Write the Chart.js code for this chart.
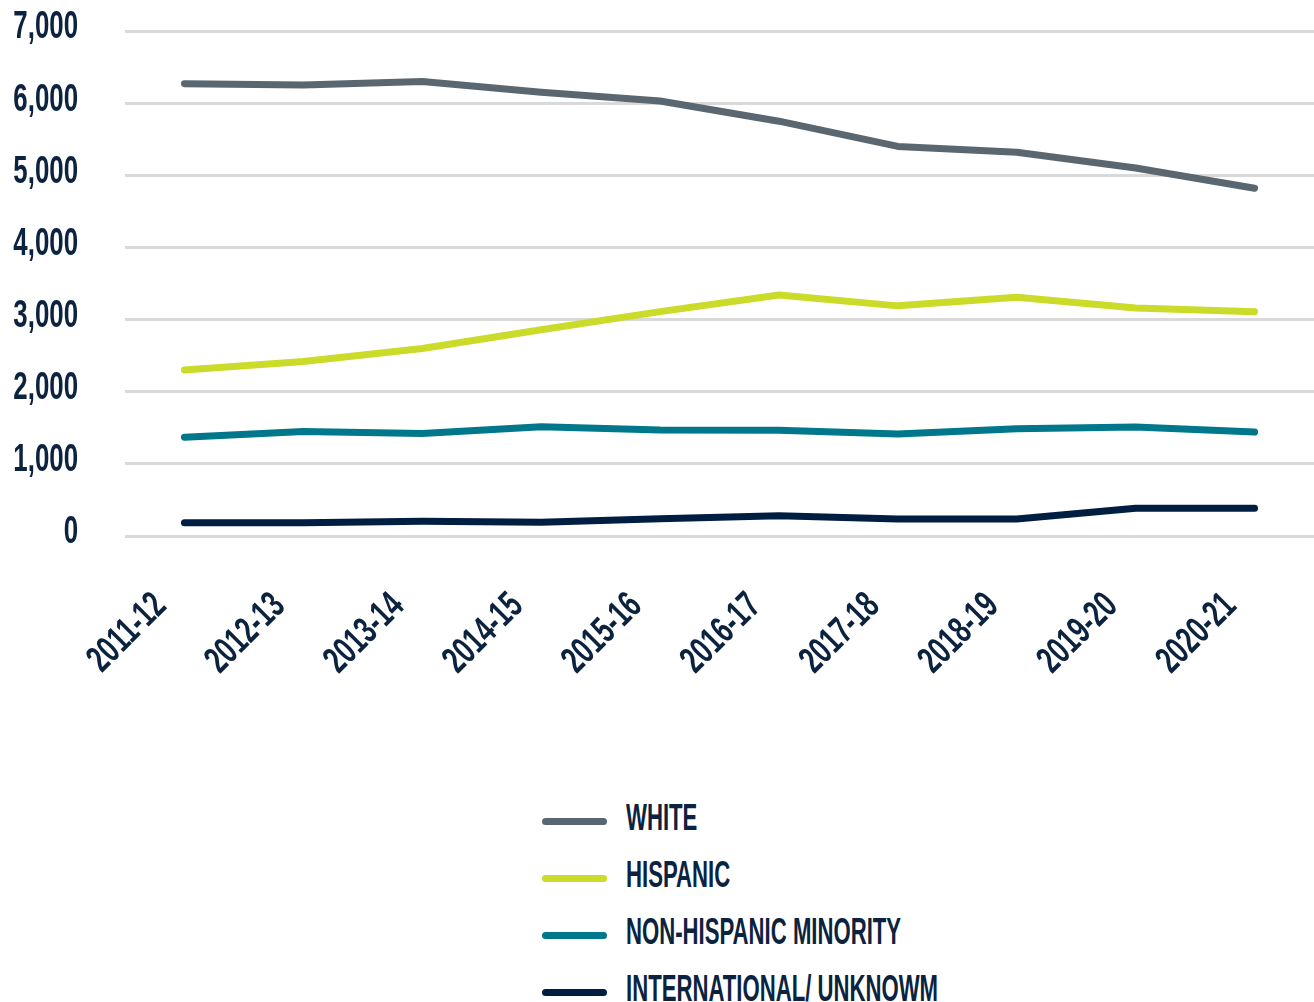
<!DOCTYPE html>
<html>
<head>
<meta charset="utf-8">
<script src="https://cdn.jsdelivr.net/npm/chart.js@4.4.0/dist/chart.umd.min.js"></script>
<style>
  html, body { margin: 0; padding: 0; background: #fff; }
  #wrap { position: relative; width: 1314px; height: 1002px; }
  #chartBox { position: absolute; left: 0; top: 0; width: 1314px; height: 700px; }
  #legend { position: absolute; left: 542px; top: 796px; }
  .item { height: 57px; position: relative; }
  .swatch { position: absolute; left: 0; top: 22px; width: 65px; height: 7px; border-radius: 4px; }
  .label {
    position: absolute; left: 84px; top: 0; white-space: nowrap;
    font-family: 'Liberation Sans', 'DejaVu Sans', sans-serif;
    font-weight: bold;
    font-size: 37px; line-height: 44px; color: #0c2340;
    transform-origin: left center;
  }
</style>
</head>
<body>
<div id="wrap">
  <div id="chartBox"><canvas id="enrollChart"></canvas></div>
  <div id="legend"></div>
</div>
<script>
var years = ['2011-12', '2012-13', '2013-14', '2014-15', '2015-16', '2016-17', '2017-18', '2018-19', '2019-20', '2020-21'];
var white = [6270, 6250, 6300, 6150, 6030, 5750, 5400, 5320, 5100, 4820];
var hispanic = [2300, 2420, 2600, 2860, 3110, 3340, 3190, 3310, 3160, 3110];
var nonHispanicMinority = [1370, 1450, 1420, 1515, 1470, 1465, 1415, 1485, 1510, 1440];
var international = [185, 185, 205, 190, 240, 280, 235, 235, 385, 385];
var yTicks = [0, 1000, 2000, 3000, 4000, 5000, 6000, 7000];

var navy = '#0c2340';
var font = "'Liberation Sans', 'DejaVu Sans', sans-serif";
var SQUEEZE = 0.68; // original uses a very narrow face

function series(label, data, color) {
  return {
    label: label,
    data: data,
    borderColor: color,
    backgroundColor: color,
    borderWidth: 7,
    borderCapStyle: 'round',
    borderJoinStyle: 'round',
    pointRadius: 0,
    pointHoverRadius: 0,
    tension: 0,
    fill: false
  };
}

// draw tick text condensed (fillText maxWidth squeezes it horizontally)
var narrowText = {
  id: 'narrowText',
  beforeDraw: function (chart) {
    var c = chart.ctx;
    if (c._narrow) return;
    var orig = c.fillText;
    c.fillText = function (text, x, y) {
      var w = this.measureText(text).width * SQUEEZE;
      orig.call(this, text, x, y, w);
    };
    c._narrow = true;
  }
};

var ctx = document.getElementById('enrollChart');
var enrollChart = new Chart(ctx, {
  type: 'line',
  data: {
    labels: years,
    datasets: [
      series('WHITE', white, '#5b6770'),
      series('HISPANIC', hispanic, '#cbdb2a'),
      series('NON-HISPANIC MINORITY', nonHispanicMinority, '#00778b'),
      series('INTERNATIONAL/ UNKNOWM', international, '#001e41')
    ]
  },
  plugins: [narrowText],
  options: {
    responsive: true,
    maintainAspectRatio: false,
    animation: false,
    layout: { padding: { top: 31, right: 0, bottom: 0, left: 0 } },
    plugins: {
      legend: { display: false },
      tooltip: { enabled: false }
    },
    scales: {
      x: {
        offset: true,
        grid: { display: false, drawTicks: false },
        border: { display: false },
        afterFit: function (scale) {
          scale.height = 164;
          scale.paddingLeft = 0;
          scale.paddingRight = 0;
        },
        ticks: {
          color: navy,
          font: { family: font, size: 38, weight: 'bold' },
          minRotation: 45,
          maxRotation: 45,
          padding: 48,
          labelOffset: -24,
          autoSkip: false
        }
      },
      y: {
        min: 0,
        max: 7000,
        afterBuildTicks: function (scale) {
          scale.ticks = yTicks.map(function (v) { return { value: v }; });
        },
        afterFit: function (scale) {
          scale.width = 125;
          scale.paddingTop = 0;
          scale.paddingBottom = 0;
        },
        grid: { color: '#d9d9d9', lineWidth: 3, drawTicks: false },
        border: { display: false },
        ticks: {
          color: navy,
          font: { family: font, size: 38, weight: 'bold' },
          padding: 47,
          labelOffset: -3,
          callback: function (v) { return v.toLocaleString('en-US'); }
        }
      }
    }
  }
});

// legend built from the chart's datasets
var legendBox = document.getElementById('legend');
var labelEls = [];
enrollChart.data.datasets.forEach(function (ds) {
  var item = document.createElement('div');
  item.className = 'item';
  var sw = document.createElement('div');
  sw.className = 'swatch';
  sw.style.background = ds.borderColor;
  var lb = document.createElement('div');
  lb.className = 'label';
  lb.textContent = ds.label;
  item.appendChild(sw);
  item.appendChild(lb);
  legendBox.appendChild(item);
  labelEls.push(lb);
});
// squeeze the legend text to the narrow face of the original
var widest = labelEls[3].getBoundingClientRect().width;
var squeeze = Math.min(1, 312 / widest);
labelEls.forEach(function (el) { el.style.transform = 'scaleX(' + squeeze + ')'; });
</script>
</body>
</html>
